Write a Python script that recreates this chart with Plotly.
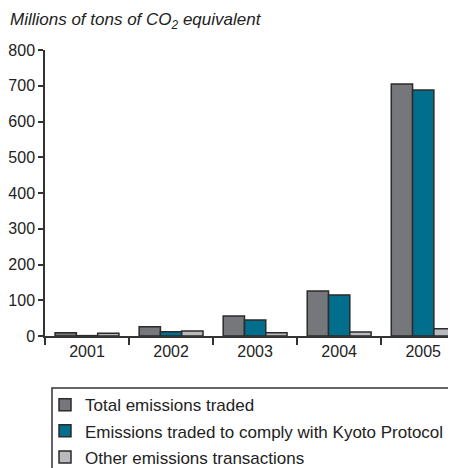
import plotly.graph_objects as go

years = ['2001', '2002', '2003', '2004', '2005']
total_traded = [9, 26, 56, 126, 705]
kyoto_traded = [1, 12, 45, 115, 688]
other_transactions = [8, 14, 9, 11, 20]

series_names = ['Total emissions traded',
                'Emissions traded to comply with Kyoto Protocol',
                'Other emissions transactions']
series_colors = ['#76777b', '#006e8c', '#b9babe']

fig = go.Figure()
for i, (name, vals, col) in enumerate(zip(series_names,
                                         [total_traded, kyoto_traded, other_transactions],
                                         series_colors)):
    fig.add_trace(go.Bar(
        x=years, y=vals, name=name, legendgroup=str(i),
        marker=dict(color=col, line=dict(color='#2b2b2b', width=1.5)),
    ))

# page body adds an 8px margin, so the figure is 8px smaller than the window
fig.update_layout(
    width=448, height=460,
    margin=dict(l=37, r=0, t=42, b=132, autoexpand=False),
    plot_bgcolor='white', paper_bgcolor='white',
    font=dict(family='Liberation Sans, Arial, sans-serif', size=16, color='#222'),
    barmode='group', bargap=0.24, bargroupgap=0,
    showlegend=True,
    legend=dict(xref='container', yref='container', x=0.0826, y=0.1756,
                xanchor='left', yanchor='top',
                bgcolor='rgba(0,0,0,0)', borderwidth=0,
                tracegroupgap=1, font=dict(size=17)),
    xaxis=dict(range=[-0.5, 4.39], showline=True, linecolor='#333', linewidth=1.5,
               ticks='outside', tickson='boundaries', ticklen=7, tickcolor='#333',
               tickwidth=1.5, showgrid=False, automargin=False,
               tickfont=dict(size=16)),
    yaxis=dict(range=[0, 800], dtick=100, showline=True, linecolor='#333', linewidth=1.5,
               ticks='outside', ticklen=5, tickcolor='#333', tickwidth=1.5,
               showgrid=False, zeroline=False, automargin=False,
               tickfont=dict(size=16)),
)

# title text above the axis
fig.add_annotation(
    text='<i>Millions of tons of CO<sub>2</sub> equivalent</i>',
    xref='paper', yref='paper', x=-0.09, y=1.1, xanchor='left', yanchor='middle',
    showarrow=False, font=dict(size=17),
)

# legend frame, runs off the right and bottom edge
fig.add_shape(type='rect', xref='paper', yref='paper',
              x0=0.017, x1=1.2, y0=-0.182, y1=-0.7,
              line=dict(color='#333', width=1.5))

fig.write_html('out.html')
